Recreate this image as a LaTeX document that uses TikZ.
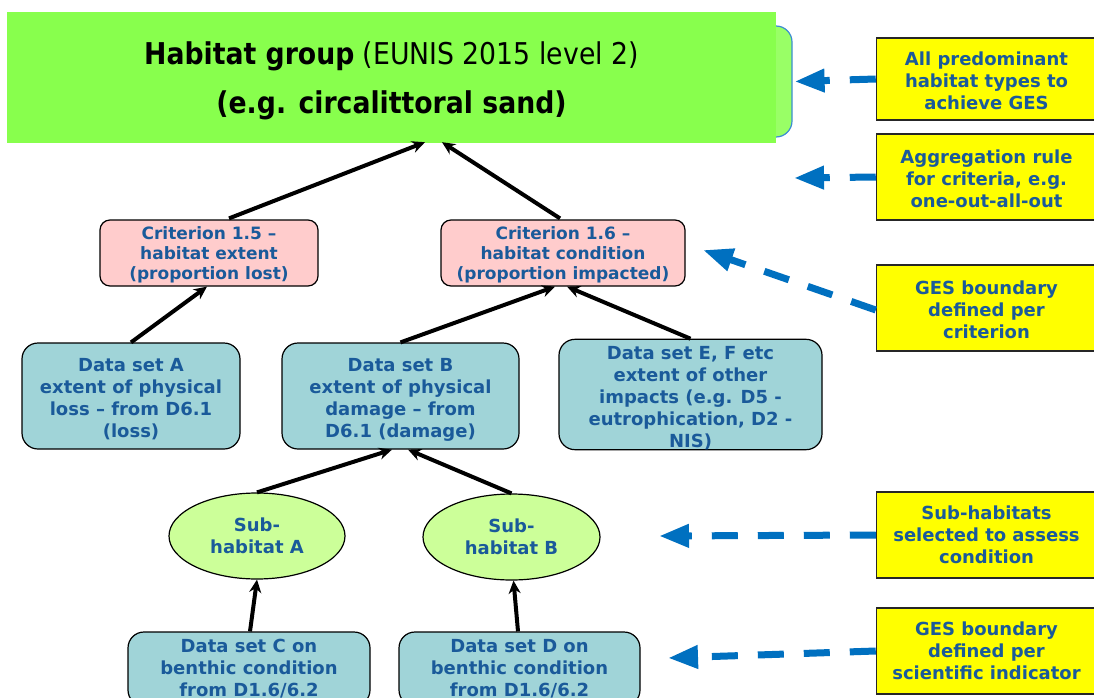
\documentclass[tikz,border=0pt]{standalone}
\usepackage{fontspec}
\setmainfont{DejaVu Sans}
\newfontfamily\topfont[FakeStretch=0.89]{DejaVu Sans}
\usetikzlibrary{arrows.meta,shapes.geometric,calc}
\newcommand\topgap[1]{\rule{0pt}{#1}}
\definecolor{txtblue}{HTML}{1A5A9A}
\definecolor{critpink}{HTML}{FFCCCC}
\definecolor{datateal}{HTML}{A0D4D8}
\definecolor{subgreen}{HTML}{CCFF99}
\definecolor{maingreen}{HTML}{88FF4D}
\definecolor{grpgreen}{HTML}{99FF66}
\definecolor{grpblue}{HTML}{3C8CD2}
\definecolor{arrblue}{HTML}{0070C0}
\definecolor{noteyellow}{HTML}{FFFF00}
\tikzset{
  critbox/.style={draw=black, line width=1.2pt, rounded corners=10pt, fill=critpink,
    minimum height=66pt, align=center, inner sep=0pt, text=txtblue,
    font=\fontsize{17}{20}\selectfont\bfseries},
  databox/.style={draw=black, line width=1.2pt, rounded corners=16pt, fill=datateal,
    minimum height=106pt, align=center, inner sep=0pt, text=txtblue,
    font=\fontsize{18}{22}\selectfont\bfseries},
  subell/.style={ellipse, draw=black, line width=1.2pt, fill=subgreen,
    minimum width=176pt, minimum height=86pt, align=center, inner sep=0pt, text=txtblue,
    font=\fontsize{18}{22}\selectfont\bfseries},
  notebox/.style={draw=black!85, line width=1.5pt, fill=noteyellow, minimum width=220pt,
    minimum height=84pt, align=center, inner sep=0pt, text=txtblue,
    font=\fontsize{18}{22}\selectfont\bfseries},
  blk/.style={draw=black, line width=4pt, -{Stealth[length=13pt,width=12pt]}},
  bluearr/.style={draw=arrblue, line width=7pt, dash pattern=on 26pt off 20pt,
    -{Triangle[length=30pt,width=22pt]}},
}
\begin{document}
\begin{tikzpicture}[x=1pt,y=-1pt]
\clip (0,0) rectangle (1094,698);
\fill[white] (0,0) rectangle (1094,698);

% habitat group box
\node (grp) [draw=grpblue, line width=1.2pt, rounded corners=16pt, fill=grpgreen,
  minimum width=102pt, minimum height=111pt, inner sep=0pt] at (741,81.5) {};
\node (main) [fill=maingreen, minimum width=769pt, minimum height=131pt, inner sep=0pt,
  align=center, font=\topfont\fontsize{30}{49}\selectfont] at (391.5,77.5)
  {\topgap{29pt}{\bfseries Habitat group} (EUNIS 2015 level 2)\\{\bfseries (e.g. circalittoral sand)}};

% criteria
\node (critA) [critbox, minimum width=218pt] at (209,253)
  {\topgap{17pt}Criterion 1.5 –\\habitat extent\\(proportion lost)};
\node (critB) [critbox, minimum width=244pt] at (563,253)
  {\topgap{17pt}Criterion 1.6 –\\habitat condition\\(proportion impacted)};

% data sets
\node (dataA) [databox, minimum width=218pt] at (131,396)
  {\topgap{20pt}Data set A\\extent of physical\\loss – from D6.1\\(loss)};
\node (dataB) [databox, minimum width=237pt] at (400.5,396)
  {\topgap{20pt}Data set B\\extent of physical\\damage – from\\D6.1 (damage)};
\node (dataE) [databox, minimum width=263pt, minimum height=107pt] at (690.5,394.5)
  {\topgap{20pt}Data set E, F etc\\extent of other\\impacts (e.g. D5 -\\eutrophication, D2 -\\NIS)};

% sub-habitats
\node (subA) [subell] at (257,536) {Sub-\\habitat A};
\node (subB) [subell, minimum width=177pt] at (511.5,537) {Sub-\\habitat B};

% data sets C and D
\node (dataC) [databox, minimum width=242pt, minimum height=74pt] at (249,669)
  {Data set C on\\benthic condition\\from D1.6/6.2};
\node (dataD) [databox, minimum width=241pt, minimum height=74pt] at (519.5,669)
  {Data set D on\\benthic condition\\from D1.6/6.2};

% notes
\node (n1) [notebox, minimum height=82pt] at (986.5,79)
  {\topgap{18pt}All predominant\\habitat types to\\achieve GES};
\node (n2) [notebox, minimum height=86pt] at (986.5,177)
  {\topgap{18pt}Aggregation rule\\for criteria, e.g.\\one-out-all-out};
\node (n3) [notebox, minimum height=86pt] at (986.5,308)
  {\topgap{18pt}GES boundary\\defined per\\criterion};
\node (n4) [notebox, minimum height=86pt] at (986.5,535)
  {Sub-habitats\\selected to assess\\condition};
\node (n5) [notebox, minimum height=86pt] at (986.5,651)
  {GES boundary\\defined per\\scientific indicator};

% black connectors
\draw[blk] ($(critA.north)+(20,-1)$) -- ($(main.south)+(33.5,-1)$);
\draw[blk] ($(critB.north)+(-3,-1)$) -- ($(main.south)+(50.5,-1)$);
\draw[blk] (dataA.north) -- ($(critA.south)+(-2,0)$);
\draw[blk] (dataB.north) -- ($(critB.south)+(-8,0)$);
\draw[blk] (dataE.north) -- ($(critB.south)+(4,0)$);
\draw[blk] (subA.north) -- ($(dataB.south)+(-8.5,0)$);
\draw[blk] (subB.north) -- ($(dataB.south)+(7.5,0)$);
\draw[blk] ($(dataC.north)+(1,0)$) -- (subA.south);
\draw[blk] ($(dataD.north)+(-1.5,0)$) -- ($(subB.south)+(2,0)$);

% blue dashed arrows
\coordinate (t2) at (794,178);
\coordinate (t3) at (703,250);
\coordinate (t4) at (659,536);
\coordinate (t5) at (668,658);
\draw[bluearr] (n1.west) -- ($(grp.east)+(2,0)$);
\draw[bluearr] (n2.west) -- (t2);
\draw[bluearr] ($(n3.west)+(0,2)$) -- (t3);
\draw[bluearr] (n4.west) -- (t4);
\draw[bluearr] (n5.west) -- (t5);
\end{tikzpicture}
\end{document}
